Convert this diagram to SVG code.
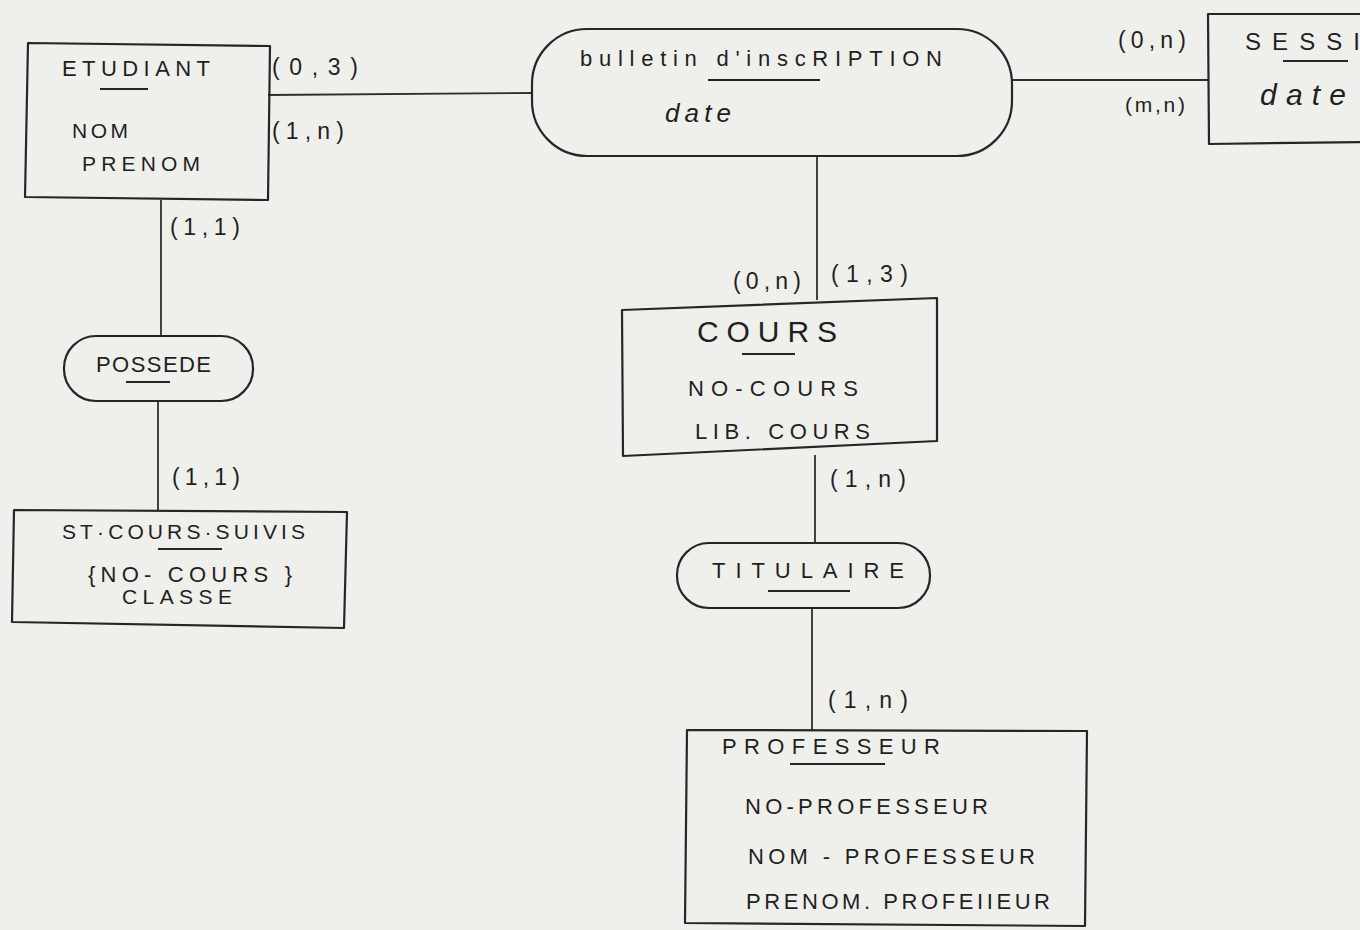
<svg xmlns="http://www.w3.org/2000/svg" width="1360" height="930" viewBox="0 0 1360 930">
  <style>
    .shape { fill: none; stroke: #262626; stroke-width: 2.2; stroke-linejoin: round; }
    .edge { fill: none; stroke: #2e2e2e; stroke-width: 1.8; }
    .ul { fill: none; stroke: #262626; stroke-width: 2; }
    text { font-family: "Liberation Sans", "DejaVu Sans", sans-serif; fill: #1f1f1f; }
    .t { font-size: 22px; }
    .a { font-size: 21px; }
    .c { font-size: 23px; }
    .s { font-size: 26px; font-style: italic; }
  </style>
  <rect width="1360" height="930" fill="#efefec"/>

  <!-- connectors -->
  <g id="connectors">
    <line class="edge" x1="268" y1="95" x2="532" y2="93"/>
    <line class="edge" x1="1012" y1="80" x2="1208" y2="80"/>
    <line class="edge" x1="161" y1="200" x2="161" y2="336"/>
    <line class="edge" x1="158" y1="401" x2="158" y2="510"/>
    <line class="edge" x1="817" y1="156" x2="817" y2="300"/>
    <line class="edge" x1="815" y1="455" x2="815" y2="543"/>
    <line class="edge" x1="812" y1="608" x2="812" y2="730"/>
  </g>

  <!-- cardinalities -->
  <g id="cardinalities">
    <text class="c" x="272" y="75" textLength="86">(0,3)</text>
    <text class="c" x="272" y="139" textLength="72">(1,n)</text>
    <text class="c" x="170" y="235" textLength="70">(1,1)</text>
    <text class="c" x="172" y="485" textLength="68">(1,1)</text>
    <text class="c" x="1118" y="48" textLength="68">(0,n)</text>
    <text class="a" x="1125" y="112" textLength="60">(m,n)</text>
    <text class="c" x="733" y="289" textLength="68">(0,n)</text>
    <text class="c" x="831" y="282" textLength="77">(1,3)</text>
    <text class="c" x="830" y="487" textLength="76">(1,n)</text>
    <text class="c" x="828" y="708" textLength="80">(1,n)</text>
  </g>

  <g id="etudiant">
    <path class="shape" d="M28 43 L270 46 L268 200 L25 197 Z"/>
    <text class="t" x="62" y="76" textLength="148">ETUDIANT</text>
    <line class="ul" x1="100" y1="89" x2="148" y2="89"/>
    <text class="a" x="72" y="138" textLength="56">NOM</text>
    <text class="a" x="82" y="171" textLength="118">PRENOM</text>
  </g>

  <g id="possede">
    <rect class="shape" x="64" y="336" width="189" height="65" rx="32"/>
    <text class="t" x="96" y="372" textLength="115">POSSEDE</text>
    <line class="ul" x1="126" y1="382" x2="170" y2="382"/>
  </g>

  <g id="st-cours-suivis">
    <path class="shape" d="M14 510 L347 512 L344 628 L12 622 Z"/>
    <text class="a" x="62" y="539" textLength="243">ST·COURS·SUIVIS</text>
    <line class="ul" x1="158" y1="549" x2="222" y2="549"/>
    <text class="t" x="88" y="582" textLength="204">{NO- COURS }</text>
    <text class="a" x="122" y="604" textLength="110">CLASSE</text>
  </g>

  <g id="bulletin-inscription">
    <rect class="shape" x="532" y="29" width="480" height="127" rx="55"/>
    <text class="t" x="580" y="66" textLength="362">bulletin d'inscRIPTION</text>
    <line class="ul" x1="708" y1="80" x2="820" y2="80"/>
    <text class="s" x="665" y="122" textLength="66">date</text>
  </g>

  <g id="session">
    <path class="shape" d="M1362 14 L1208 14 L1209 144 L1362 142"/>
    <text x="1245" y="50" font-size="24" textLength="115">SESSI</text>
    <line class="ul" x1="1283" y1="61" x2="1348" y2="61"/>
    <text x="1260" y="105" font-size="30" font-style="italic" textLength="86">date</text>
  </g>

  <g id="cours">
    <path class="shape" d="M622 310 L937 298 L937 441 L623 456 Z"/>
    <text x="697" y="342" font-size="30" textLength="140">COURS</text>
    <line class="ul" x1="742" y1="354" x2="795" y2="354"/>
    <text class="t" x="688" y="396" textLength="170">NO-COURS</text>
    <text class="t" x="695" y="439" textLength="175">LIB. COURS</text>
  </g>

  <g id="titulaire">
    <rect class="shape" x="677" y="543" width="253" height="65" rx="32"/>
    <text class="t" x="712" y="578" textLength="192">TITULAIRE</text>
    <line class="ul" x1="768" y1="591" x2="850" y2="591"/>
  </g>

  <g id="professeur">
    <path class="shape" d="M687 730 L1087 731 L1085 926 L685 923 Z"/>
    <text class="t" x="722" y="754" textLength="218">PROFESSEUR</text>
    <line class="ul" x1="790" y1="764" x2="885" y2="764"/>
    <text class="t" x="745" y="814" textLength="243">NO-PROFESSEUR</text>
    <text class="t" x="748" y="864" textLength="287">NOM - PROFESSEUR</text>
    <text class="t" x="746" y="909" textLength="304">PRENOM. PROFEIIEUR</text>
  </g>
</svg>
